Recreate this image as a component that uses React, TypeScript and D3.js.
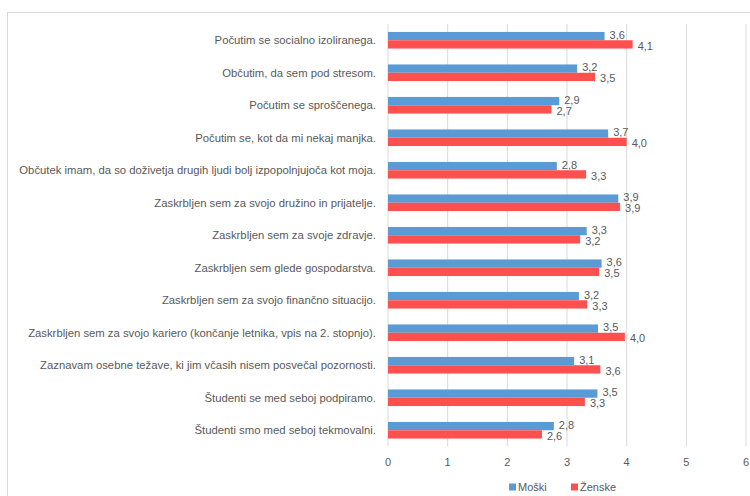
import React from "react";
import * as d3 from "d3";

const categories = [
  "Počutim se socialno izoliranega.",
  "Občutim, da sem pod stresom.",
  "Počutim se sproščenega.",
  "Počutim se, kot da mi nekaj manjka.",
  "Občutek imam, da so doživetja drugih ljudi bolj izpopolnjujoča kot moja.",
  "Zaskrbljen sem za svojo družino in prijatelje.",
  "Zaskrbljen sem za svoje zdravje.",
  "Zaskrbljen sem glede gospodarstva.",
  "Zaskrbljen sem za svojo finančno situacijo.",
  "Zaskrbljen sem za svojo kariero (končanje letnika, vpis na 2. stopnjo).",
  "Zaznavam osebne težave, ki jim včasih nisem posvečal pozornosti.",
  "Študenti se med seboj podpiramo.",
  "Študenti smo med seboj tekmovalni.",
];
const moski = [3.63, 3.17, 2.87, 3.69, 2.83, 3.86, 3.33, 3.58, 3.2, 3.52, 3.12, 3.51, 2.78];
const zenske = [4.1, 3.47, 2.74, 4.0, 3.32, 3.89, 3.22, 3.54, 3.34, 3.97, 3.56, 3.3, 2.58];
const seriesNames = ["Moški", "Ženske"];
const colors = ["#5B9BD5", "#FF5050"];
const ticks = [0, 1, 2, 3, 4, 5, 6];

export default function App() {
  const W = 750, H = 496;
  const left = 388, right = 746, top = 24, bottom = 446.5;
  const x = d3.scaleLinear().domain([0, 6]).range([left, right]);
  const y = d3.scaleBand<string>().domain(categories).range([top, bottom]);
  const bw = 8.3;
  const fmt = (v: number) => (Math.round(v * 10) / 10).toFixed(1).replace(".", ",");
  const font = "'Liberation Sans', Arial, sans-serif";
  const txt = "#595959";
  const series = [moski, zenske];
  return (
    <svg width={W} height={H} style={{ position: "absolute", left: 0, top: 0, background: "#fff" }} fontFamily={font}>
      <rect x={7.5} y={12.5} width={760} height={500} fill="#fff" stroke="#d9d9d9" />
      {ticks.map((t) => (
        <line key={t} x1={x(t)} x2={x(t)} y1={top} y2={bottom} stroke="#d9d9d9" strokeWidth={1} />
      ))}
      {categories.map((c, i) => {
        const cy = (y(c) as number) + y.bandwidth() / 2;
        return (
          <g key={c}>
            <text x={376} y={cy} dy="0.35em" textAnchor="end" fontSize={11.3} fill={txt}>{c}</text>
            {series.map((s, j) => {
              const by = cy - bw + j * bw;
              return (
                <g key={j}>
                  <rect x={x(0)} y={by} width={x(s[i]) - x(0)} height={bw} fill={colors[j]} />
                  <text x={x(s[i]) + 5} y={by + bw / 2 + (j === 0 ? -1 : 1.5)} dy="0.35em" fontSize={11} fill={txt}>{fmt(s[i])}</text>
                </g>
              );
            })}
          </g>
        );
      })}
      {ticks.map((t) => (
        <text key={t} x={x(t)} y={462} dy="0.35em" textAnchor="middle" fontSize={11} fill={txt}>{t}</text>
      ))}
      <g>
        <rect x={509} y={483.5} width={7} height={7} fill={colors[0]} />
        <text x={518} y={487} dy="0.35em" fontSize={11} fill={txt}>{seriesNames[0]}</text>
        <rect x={571} y={483.5} width={7} height={7} fill={colors[1]} />
        <text x={580} y={487} dy="0.35em" fontSize={11} fill={txt}>{seriesNames[1]}</text>
      </g>
    </svg>
  );
}
